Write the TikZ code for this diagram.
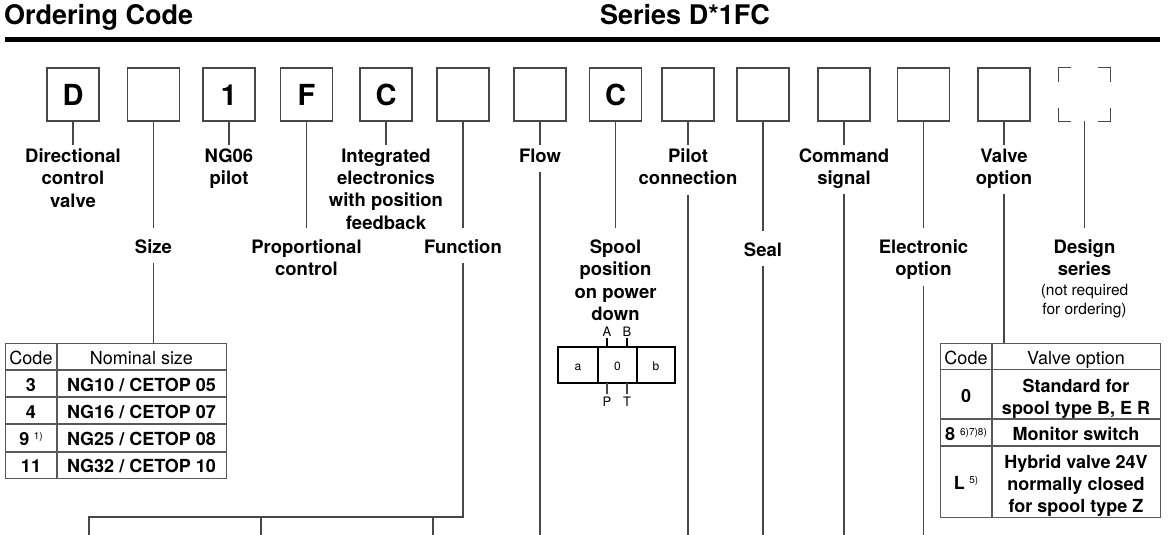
\documentclass[tikz,border=0pt]{standalone}
\usepackage{fontspec}
\setmainfont{TeX Gyre Heros}
\newcommand\myLbl{\fontsize{18.5}{22.2}\selectfont\bfseries}
\newcommand\myTab{\fontsize{18}{22}\selectfont}
\newcommand\myBox{\fontsize{29}{30}\selectfont\bfseries}
\newcommand\myTitle{\fontsize{27}{30}\selectfont\bfseries}
\newcommand\mySmall{\fontsize{15.5}{19}\selectfont}
\newcommand\myTiny{\fontsize{12}{13}\selectfont}
\newcommand\myPort{\fontsize{13}{14}\selectfont}
\newcommand\mySup[1]{\raisebox{5.5pt}{\fontsize{10}{10}\selectfont\mdseries #1}}
\begin{document}
\begin{tikzpicture}[x=1pt,y=-1pt,
  codebox/.style={draw=black!72, line width=1.3pt, minimum width=52pt, minimum height=53pt, inner sep=0pt, text height=23pt, text depth=0pt, font=\myBox},
  lbl/.style={font=\myLbl, align=center, inner sep=0pt, outer sep=0pt, anchor=north, execute at begin node={\vphantom{l}}, execute at end node={\vphantom{g}}},
  note/.style={lbl, font=\mySmall},
  conn/.style={draw=black!72, line width=1.1pt},
  grid/.style={draw=black!65, line width=1.4pt},
  cell/.style={font=\myTab, inner sep=0pt, anchor=base},
  bcell/.style={font={\myTab\bfseries}, inner sep=0pt, anchor=base},
  mcell/.style={font={\myTab\bfseries}, align=center, inner sep=0pt, anchor=north, execute at begin node={\vphantom{l}}},
  tiny/.style={font=\myTiny, inner sep=0pt, anchor=base},
  port/.style={font=\myPort, inner sep=0pt, anchor=base},
  dbox/.style={draw=black!72, line width=1.3pt}
]
\useasboundingbox (0,0) rectangle (1168,535);
% header
\node[font=\myTitle, inner sep=0pt, anchor=base west] (title) at (4,25) {Ordering Code};
\node[font=\myTitle, inner sep=0pt, anchor=base west] (series) at (600,25) {Series D*1FC};
\draw[line width=4.6pt] (5,39.3) -- (1160,39.3);

% code boxes
\node[codebox] (b1) at (73,94.5) {D};
\node[codebox] (b2) at (153.5,94.5) {};
\node[codebox] (b3) at (229,94.5) {1};
\node[codebox] (b4) at (306.5,94.5) {F};
\node[codebox] (b5) at (386,94.5) {C};
\node[codebox] (b6) at (463,94.5) {};
\node[codebox] (b7) at (540,94.5) {};
\node[codebox] (b8) at (615.5,94.5) {C};
\node[codebox] (b9) at (688,94.5) {};
\node[codebox] (b10) at (763,94.5) {};
\node[codebox] (b11) at (844,94.5) {};
\node[codebox] (b12) at (923.5,94.5) {};
\node[codebox] (b13) at (1004,94.5) {};
\node[minimum width=52pt, minimum height=53pt, inner sep=0pt] (b14) at (1084.5,94.5) {};
\draw[dbox] ([xshift=13pt]b14.north west) -- (b14.north west) -- ([yshift=-14pt]b14.north west);
\draw[dbox] ([xshift=-13pt]b14.north east) -- (b14.north east) -- ([yshift=-14pt]b14.north east);
\draw[dbox] ([xshift=13pt]b14.south west) -- (b14.south west) -- ([yshift=13pt]b14.south west);
\draw[dbox] ([xshift=-13pt]b14.south east) -- (b14.south east) -- ([yshift=13pt]b14.south east);

% labels
\node[lbl] (lD) at (73,149) {Directional\\control\\valve};
\node[lbl] (lS) at (153.5,240) {Size};
\node[lbl] (lNG) at (229,149) {NG06\\pilot};
\node[lbl] (lP) at (306.5,240) {Proportional\\control};
\node[lbl] (lI) at (386,149) {Integrated\\electronics\\with position\\feedback};
\node[lbl] (lF) at (463,240) {Function};
\node[lbl] (lFl) at (540,149) {Flow};
\node[lbl] (lSp) at (615.5,240) {Spool\\position\\on power\\down};
\node[lbl] (lPc) at (688,149) {Pilot\\connection};
\node[lbl] (lSe) at (763,243) {Seal};
\node[lbl] (lCs) at (844,149) {Command\\signal};
\node[lbl] (lEo) at (923.5,240) {Electronic\\option};
\node[lbl] (lVo) at (1004,149) {Valve\\option};
\node[lbl] (lDs) at (1084.5,240) {Design\\series};
\node[note] (lNote) at (1084.5,284) {(not required\\for ordering)};

% box-to-label connectors
\draw[conn] (b1.south) -- ([yshift=4pt]lD.north);
\draw[conn] (b2.south) -- ([yshift=12pt]lS.north);
\draw[conn] (b3.south) -- ([yshift=4pt]lNG.north);
\draw[conn] (b4.south) -- ([yshift=12pt]lP.north);
\draw[conn] (b5.south) -- ([yshift=4pt]lI.north);
\draw[conn] (b6.south) -- ([yshift=12pt]lF.north);
\draw[conn] (b7.south) -- ([yshift=4pt]lFl.north);
\draw[conn] (b8.south) -- ([yshift=12pt]lSp.north);
\draw[conn] (b9.south) -- ([yshift=4pt]lPc.north);
\draw[conn] (b10.south) -- ([yshift=12pt]lSe.north);
\draw[conn] (b11.south) -- ([yshift=4pt]lCs.north);
\draw[conn] (b12.south) -- ([yshift=12pt]lEo.north);
\draw[conn] (b13.south) -- ([yshift=4pt]lVo.north);
\draw[conn] (b14.south) -- ([yshift=12pt]lDs.north);

% left table
\node[grid, minimum width=221pt, minimum height=135pt, inner sep=0pt, anchor=north west] (tabL) at (5,343) {};
\draw[grid] (57,343) -- (57,478);
\foreach \yy in {370,397,424,452} \draw[grid] (5,\yy) -- (226,\yy);
\node[cell] (tLh1) at (31,364) {Code};
\node[cell] (tLh2) at (141.5,364) {Nominal size};
\node[bcell] (tL1a) at (31,391.5) {3};
\node[bcell] (tL1b) at (141.5,391.5) {NG10 / CETOP 05};
\node[bcell] (tL2a) at (31,418.5) {4};
\node[bcell] (tL2b) at (141.5,418.5) {NG16 / CETOP 07};
\node[bcell] (tL3a) at (31,445) {9\hspace{4.5pt}\mySup{1)}};
\node[bcell] (tL3b) at (141.5,445) {NG25 / CETOP 08};
\node[bcell] (tL4a) at (31,472) {11};
\node[bcell] (tL4b) at (141.5,472) {NG32 / CETOP 10};

% right table
\node[grid, minimum width=220pt, minimum height=174pt, inner sep=0pt, anchor=north west] (tabR) at (940,343) {};
\draw[grid] (992,343) -- (992,517);
\foreach \yy in {369.5,419,446} \draw[grid] (940,\yy) -- (1160,\yy);
\node[cell] (tRh1) at (966,364) {Code};
\node[cell] (tRh2) at (1076,364) {Valve option};
\node[bcell] (tR1a) at (966,402.5) {0};
\node[mcell] (tR1b) at (1076,378.6) {Standard for\\spool type B, E R};
\node[bcell] (tR2a) at (966,440.5) {8\hspace{5pt}\mySup{6)7)8)}};
\node[bcell] (tR2b) at (1076,440.5) {Monitor switch};
\node[bcell] (tR3a) at (966,489.3) {L\hspace{4.5pt}\mySup{5)}};
\node[mcell] (tR3b) at (1076,454.4) {Hybrid valve 24V\\normally closed\\for spool type Z};

% spool symbol
\node[draw=black, line width=1.4pt, minimum width=117pt, minimum height=36pt, inner sep=0pt] (sp) at (616.5,365) {};
\draw[line width=1.2pt] (598,347) -- (598,383);
\draw[line width=1.2pt] (637,347) -- (637,383);
\node[tiny] (spa) at (578,370) {a};
\node[tiny] (sp0) at (617.5,370) {0};
\node[tiny] (spb) at (656,370) {b};
\node[port] (pA) at (607,336) {A};
\node[port] (pB) at (627,336) {B};
\node[port] (pP) at (607,406) {P};
\node[port] (pT) at (627,406) {T};
\draw[line width=1.6pt] (607,347) -- (607,337.5);
\draw[line width=1.6pt] (627,347) -- (627,337.5);
\draw[line width=1.1pt, draw=black!72] (607,383) -- (607,394);
\draw[line width=1.1pt, draw=black!72] (627,383) -- (627,394);

% lower connectors
\coordinate (eFl) at (540,535);
\coordinate (ePc) at (688,535);
\coordinate (eSe) at (763,535);
\coordinate (eCs) at (844,535);
\coordinate (eEo) at (923.5,535);
\coordinate (fj) at (463,517);
\coordinate (e1) at (89,535);
\coordinate (e2) at (261,535);
\coordinate (e3) at (433,535);
\draw[conn] ([yshift=-5.5pt]lS.south) -- (lS.south |- tabL.north);
\draw[conn] ([yshift=-5.5pt]lVo.south) -- (lVo.south |- tabR.north);
\draw[conn] ([yshift=-5.5pt]lFl.south) -- (eFl);
\draw[conn] ([yshift=-5.5pt]lPc.south) -- (ePc);
\draw[conn] ([yshift=-5.5pt]lSe.south) -- (eSe);
\draw[conn] ([yshift=-5.5pt]lCs.south) -- (eCs);
\draw[conn] ([yshift=-5.5pt]lEo.south) -- (eEo);
\draw[conn] ([yshift=-5.5pt]lF.south) -- (fj) -| (e1);
\draw[conn] (e2 |- fj) -- (e2);
\draw[conn] (e3 |- fj) -- (e3);
\end{tikzpicture}
\end{document}
